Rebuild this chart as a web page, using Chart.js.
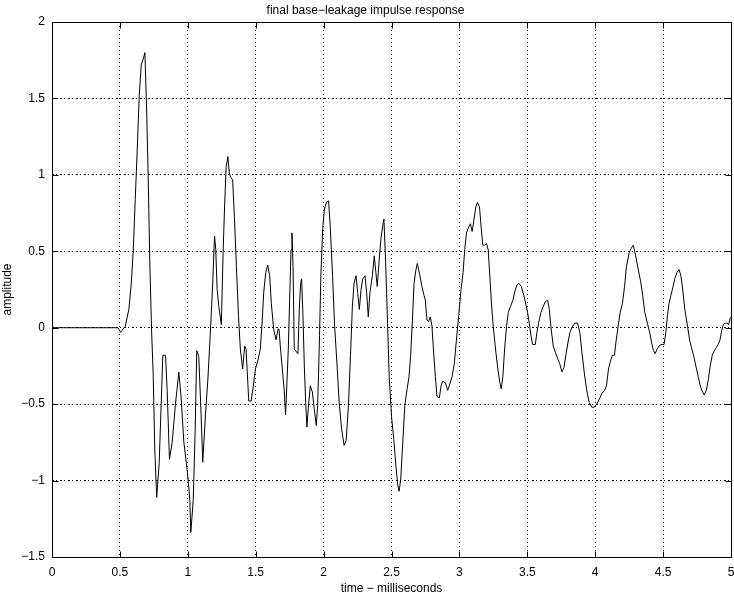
<!DOCTYPE html>
<html>
<head>
<meta charset="utf-8">
<title>final base-leakage impulse response</title>
<script src="https://cdn.jsdelivr.net/npm/chart.js@4/dist/chart.umd.min.js"></script>
<style>
    html, body { margin: 0; padding: 0; background: #fff; }
</style>
</head>
<body>
<canvas id="chart" width="734" height="595"></canvas>
<script>
// values
const timeMs = [
    0, 0.485, 0.505, 0.54, 0.566, 0.583, 0.598, 0.613, 0.627, 0.642, 0.657, 0.676, 0.684, 0.696, 0.708, 0.72,
    0.733, 0.745, 0.757, 0.771, 0.789, 0.804, 0.816, 0.836, 0.848, 0.865, 0.885, 0.909, 0.934, 0.951, 0.971,
    0.99, 1.005, 1.015, 1.022, 1.04, 1.054, 1.066, 1.081, 1.098, 1.11, 1.13, 1.147, 1.165, 1.183, 1.197,
    1.206, 1.216, 1.228, 1.247, 1.26, 1.27, 1.282, 1.295, 1.306, 1.318, 1.33, 1.343, 1.358, 1.373, 1.387,
    1.404, 1.419, 1.429, 1.449, 1.466, 1.48, 1.498, 1.517, 1.534, 1.547, 1.559, 1.574, 1.588, 1.603, 1.615,
    1.632, 1.65, 1.664, 1.672, 1.681, 1.696, 1.711, 1.72, 1.73, 1.74, 1.75, 1.76, 1.767, 1.775, 1.784,
    1.811, 1.821, 1.831, 1.838, 1.848, 1.858, 1.868, 1.877, 1.887, 1.902, 1.917, 1.931, 1.946, 1.956, 1.963,
    1.97, 1.98, 1.993, 2.005, 2.02, 2.037, 2.049, 2.066, 2.08, 2.098, 2.115, 2.132, 2.151, 2.166, 2.183,
    2.198, 2.212, 2.224, 2.239, 2.251, 2.263, 2.276, 2.288, 2.305, 2.317, 2.329, 2.341, 2.359, 2.373, 2.385,
    2.395, 2.41, 2.422, 2.434, 2.444, 2.456, 2.471, 2.483, 2.5, 2.517, 2.532, 2.546, 2.556, 2.568, 2.583,
    2.598, 2.615, 2.629, 2.641, 2.654, 2.666, 2.678, 2.69, 2.707, 2.724, 2.74, 2.749, 2.761, 2.773, 2.786,
    2.798, 2.81, 2.823, 2.835, 2.852, 2.865, 2.877, 2.897, 2.914, 2.929, 2.946, 2.963, 2.978, 2.995, 3.012,
    3.027, 3.039, 3.052, 3.069, 3.081, 3.094, 3.106, 3.121, 3.133, 3.148, 3.16, 3.172, 3.185, 3.2, 3.212,
    3.224, 3.236, 3.249, 3.266, 3.283, 3.298, 3.308, 3.32, 3.333, 3.347, 3.36, 3.377, 3.394, 3.409, 3.424,
    3.438, 3.456, 3.475, 3.49, 3.502, 3.515, 3.527, 3.539, 3.559, 3.571, 3.583, 3.6, 3.618, 3.632, 3.65,
    3.662, 3.676, 3.691, 3.706, 3.723, 3.74, 3.755, 3.77, 3.784, 3.799, 3.814, 3.833, 3.85, 3.87, 3.887,
    3.902, 3.919, 3.936, 3.956, 3.975, 3.993, 4.01, 4.029, 4.049, 4.069, 4.083, 4.098, 4.115, 4.127, 4.142,
    4.152, 4.169, 4.184, 4.201, 4.216, 4.23, 4.25, 4.265, 4.281, 4.298, 4.315, 4.335, 4.35, 4.365, 4.384,
    4.401, 4.416, 4.429, 4.441, 4.456, 4.47, 4.485, 4.507, 4.52, 4.532, 4.544, 4.557, 4.571, 4.586, 4.601,
    4.618, 4.631, 4.643, 4.66, 4.68, 4.695, 4.709, 4.724, 4.741, 4.759, 4.773, 4.786, 4.803, 4.818, 4.833,
    4.847, 4.862, 4.877, 4.892, 4.906, 4.919, 4.931, 4.943, 4.956, 4.97, 4.983, 4.993, 5.0
]
const amplitude = [
    0, 0, -0.03, 0.01, 0.12, 0.28, 0.50, 0.84, 1.15, 1.51, 1.72, 1.77, 1.80, 1.45, 1.00, 0.44,
    -0.01, -0.30, -0.80, -1.11, -0.89, -0.50, -0.18, -0.18, -0.41, -0.86, -0.75, -0.50, -0.29, -0.46, -0.75,
    -0.89, -1.02, -1.13, -1.34, -1.13, -0.68, -0.15, -0.19, -0.57, -0.88, -0.57, -0.35, -0.05, 0.28, 0.60,
    0.51, 0.25, 0.14, 0.02, 0.49, 0.77, 1.05, 1.12, 1.01, 0.98, 0.97, 0.73, 0.40, 0.08, -0.14,
    -0.27, -0.12, -0.14, -0.48, -0.48, -0.40, -0.27, -0.21, -0.14, 0.03, 0.23, 0.36, 0.41, 0.34, 0.16,
    -0.01, -0.08, -0.01, -0.01, -0.12, -0.27, -0.42, -0.57, -0.36, -0.14, 0.18, 0.51, 0.62, 0.40, -0.14,
    -0.17, 0.12, 0.29, 0.32, 0.08, -0.25, -0.49, -0.65, -0.53, -0.38, -0.42, -0.53, -0.64, -0.51, -0.30,
    -0.05, 0.34, 0.64, 0.77, 0.82, 0.83, 0.66, 0.34, 0.03, -0.23, -0.49, -0.66, -0.77, -0.74, -0.51,
    -0.18, 0.14, 0.29, 0.34, 0.23, 0.12, 0.25, 0.32, 0.34, 0.23, 0.07, 0.23, 0.34, 0.47, 0.36,
    0.27, 0.45, 0.58, 0.66, 0.71, 0.45, 0.03, -0.32, -0.58, -0.73, -0.90, -1.03, -1.07, -0.99, -0.75,
    -0.51, -0.40, -0.32, -0.18, 0.05, 0.29, 0.37, 0.42, 0.35, 0.27, 0.21, 0.18, 0.05, 0.04, 0.07,
    0.01, -0.16, -0.32, -0.45, -0.46, -0.38, -0.35, -0.36, -0.41, -0.37, -0.32, -0.23, -0.08, 0.08, 0.25,
    0.36, 0.51, 0.62, 0.66, 0.68, 0.63, 0.70, 0.79, 0.82, 0.79, 0.66, 0.54, 0.54, 0.55, 0.51,
    0.34, 0.16, 0.01, -0.14, -0.27, -0.36, -0.40, -0.32, -0.14, 0.01, 0.10, 0.14, 0.18, 0.24, 0.28,
    0.29, 0.27, 0.21, 0.15, 0.10, 0.03, -0.05, -0.11, -0.11, -0.03, 0.03, 0.10, 0.14, 0.17, 0.18,
    0.12, -0.01, -0.12, -0.16, -0.20, -0.24, -0.29, -0.26, -0.18, -0.10, -0.03, 0.01, 0.03, 0.03, -0.03,
    -0.16, -0.29, -0.40, -0.49, -0.52, -0.52, -0.50, -0.47, -0.43, -0.41, -0.38, -0.27, -0.21, -0.18, -0.18,
    -0.10, 0.01, 0.10, 0.16, 0.27, 0.40, 0.49, 0.52, 0.54, 0.47, 0.39, 0.30, 0.21, 0.10, 0.03,
    -0.03, -0.10, -0.15, -0.17, -0.14, -0.12, -0.11, -0.11, -0.03, 0.08, 0.16, 0.21, 0.26, 0.32, 0.36,
    0.38, 0.34, 0.26, 0.12, 0.01, -0.08, -0.13, -0.18, -0.25, -0.32, -0.38, -0.41, -0.44, -0.41, -0.34,
    -0.25, -0.18, -0.15, -0.13, -0.11, -0.08, -0.02, 0.02, 0.03, 0.03, 0.02, 0.06, 0.07
]
const xTicks = [0, 0.5, 1, 1.5, 2, 2.5, 3, 3.5, 4, 4.5, 5]
const yTicks = [-1.5, -1, -0.5, 0, 0.5, 1, 1.5, 2]

const titleText = 'final base\u2212leakage impulse response'
const xLabel = 'time \u2212 milliseconds'
const yLabel = 'amplitude'

function fmt(v) {
    return v < 0 ? '\u2212' + Math.abs(v) : String(v)
}

// matlab style box with ticks pointing inwards
const boxTicks = {
    id: 'boxTicks',
    afterDraw(chart) {
        const {ctx, chartArea: a, scales: {x, y}} = chart
        const l = Math.round(a.left) + 0.5
        const r = Math.round(a.right) + 0.5
        const t = Math.round(a.top) + 0.5
        const b = Math.round(a.bottom) + 0.5
        ctx.save()
        ctx.strokeStyle = '#000'
        ctx.lineWidth = 1
        ctx.beginPath()
        xTicks.forEach(v => {
            let px = Math.round(x.getPixelForValue(v)) + 0.5
            ctx.moveTo(px, b); ctx.lineTo(px, b - 6)
            ctx.moveTo(px, t); ctx.lineTo(px, t + 6)
        })
        yTicks.forEach(v => {
            let py = Math.round(y.getPixelForValue(v)) + 0.5
            ctx.moveTo(l, py); ctx.lineTo(l + 6, py)
            ctx.moveTo(r, py); ctx.lineTo(r - 6, py)
        })
        ctx.stroke()
        ctx.strokeRect(l, t, r - l, b - t)
        ctx.restore()
    }
}

Chart.defaults.font.family = "'Liberation Sans', Arial, Helvetica, sans-serif"
Chart.defaults.font.size = 12
Chart.defaults.color = '#000'

let points = timeMs.map((t, i) => ({x: t, y: amplitude[i]}))

const config = {
    type: 'line',
    data: {
        datasets: [{
            data: points,
            borderColor: '#000',
            borderWidth: 1,
            pointRadius: 0,
            tension: 0,
            fill: false
        }]
    },
    options: {
        responsive: false,
        animation: false,
        layout: {padding: {left: 0, right: 3, top: 0, bottom: 0}},
        scales: {
            x: {
                type: 'linear',
                min: 0,
                max: 5,
                afterBuildTicks: s => { s.ticks = xTicks.map(v => ({value: v})) },
                afterFit: s => {
                    s.height = 38
                    s.paddingLeft = 0
                    s.paddingRight = 0
                },
                ticks: {callback: v => fmt(v), padding: 8, maxRotation: 0},
                grid: {color: '#000', drawTicks: false, lineWidth: 1},
                border: {display: false, dash: [1, 3]},
                title: {display: true, text: xLabel, font: {size: 12, lineHeight: 1}, padding: {top: 0, bottom: 0}}
            },
            y: {
                type: 'linear',
                min: -1.5,
                max: 2,
                afterBuildTicks: s => { s.ticks = yTicks.map(v => ({value: v})) },
                afterFit: s => {
                    s.width = 52
                    s.paddingTop = 0
                    s.paddingBottom = 0
                },
                ticks: {callback: v => fmt(v), padding: 7},
                grid: {color: '#000', drawTicks: false, lineWidth: 1},
                border: {display: false, dash: [2, 2, 1, 3]},
                title: {display: true, text: yLabel, font: {size: 12, lineHeight: 1}, padding: {top: 2, bottom: 0}}
            }
        },
        plugins: {
            legend: {display: false},
            tooltip: {enabled: false},
            title: {
                display: true,
                text: titleText,
                font: {size: 12, weight: 'normal', lineHeight: 1.2},
                padding: {top: 3, bottom: 4.6}
            }
        }
    },
    plugins: [boxTicks]
}

new Chart(document.getElementById('chart'), config)
</script>
</body>
</html>
